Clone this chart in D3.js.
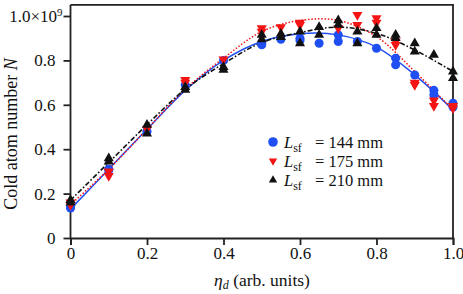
<!DOCTYPE html>
<html>
<head>
<meta charset="utf-8">
<script src="https://cdn.jsdelivr.net/npm/d3@7"></script>
<style>
  body { margin: 0; background: #fff; }
  svg text { font-family: "Liberation Serif", "Times New Roman", Times, serif; fill: #111; }
</style>
</head>
<body>
<div id="chart"></div>
<script>
// measured points (x = eta_d, y = N in units of 1e9)
const blueX = [0, 0, 0.1, 0.1, 0.2, 0.3, 0.4, 0.5, 0.5, 0.55, 0.6, 0.6, 0.65, 0.7, 0.7, 0.75, 0.8, 0.85, 0.85, 0.9, 0.95, 0.95, 1.0, 1.0];
const blueY = [0.135, 0.14, 0.306, 0.31, 0.48, 0.69, 0.80, 0.87, 0.875, 0.895, 0.90, 0.89, 0.877, 0.915, 0.885, 0.885, 0.855, 0.81, 0.78, 0.734, 0.645, 0.665, 0.607, 0.59];

const redX = [0, 0, 0.1, 0.1, 0.2, 0.3, 0.3, 0.4, 0.5, 0.5, 0.55, 0.6, 0.6, 0.7, 0.75, 0.75, 0.8, 0.8, 0.85, 0.85, 0.9, 0.9, 0.95, 0.95, 1.0, 1.0];
const redY = [0.149, 0.16, 0.30, 0.28, 0.49, 0.712, 0.70, 0.805, 0.945, 0.93, 0.95, 0.97, 0.96, 0.945, 1.005, 0.96, 0.99, 0.97, 0.87, 0.885, 0.70, 0.69, 0.62, 0.595, 0.585, 0.595];

const blackX = [0, 0, 0.1, 0.1, 0.2, 0.2, 0.3, 0.3, 0.4, 0.4, 0.5, 0.5, 0.55, 0.55, 0.6, 0.6, 0.65, 0.65, 0.7, 0.7, 0.75, 0.75, 0.8, 0.8, 0.85, 0.85, 0.9, 0.9, 0.95, 1.0, 1.0];
const blackY = [0.171, 0.16, 0.359, 0.344, 0.51, 0.47, 0.68, 0.667, 0.77, 0.757, 0.915, 0.895, 0.92, 0.905, 0.93, 0.877, 0.95, 0.915, 0.98, 0.96, 0.93, 0.877, 0.945, 0.915, 0.915, 0.90, 0.877, 0.84, 0.825, 0.75, 0.72];

const fitX = [0, 0.1, 0.2, 0.3, 0.4, 0.5, 0.6, 0.7, 0.8, 0.9, 1.0];
const fitBlue = [0.13, 0.31, 0.49, 0.665, 0.80, 0.885, 0.92, 0.915, 0.86, 0.735, 0.577];
const fitRed = [0.15, 0.31, 0.49, 0.67, 0.81, 0.93, 0.98, 0.98, 0.907, 0.75, 0.577];
const fitBlack = [0.17, 0.34, 0.51, 0.67, 0.785, 0.88, 0.925, 0.95, 0.922, 0.847, 0.75];

const xTicks = [0, 0.2, 0.4, 0.6, 0.8, 1.0];
const yTicks = [0, 0.2, 0.4, 0.6, 0.8, 1.0];
const legendLabels = ["144 mm", "175 mm", "210 mm"];

const width = 463, height = 294;
const blue = "#1f4ff2", red = "#f41414", black = "#111";
const serif = '"Liberation Serif", "Times New Roman", Times, serif';

const svg = d3.select("#chart").append("svg")
  .attr("width", width)
  .attr("height", height)
  .style("font-family", serif);

const x = d3.scaleLinear().domain([0, 1]).range([70.5, 453]);
const y = d3.scaleLinear().domain([0, 1]).range([238, 16]);

// frame (top + right)
svg.append("path")
  .attr("d", `M${x(0)},${y(1.05)}H${x(1)}V${y(0)}`)
  .attr("fill", "none")
  .attr("stroke", "#222")
  .attr("stroke-width", 1.8);

const xAxis = svg.append("g")
  .attr("transform", `translate(0,${y(0)})`)
  .call(d3.axisBottom(x).tickValues(xTicks).tickSize(7).tickPadding(2)
    .tickFormat(d => d === 0 ? "0" : d3.format(".1f")(d)));

const yAxis = svg.append("g")
  .attr("transform", `translate(${x(0)},0)`)
  .call(d3.axisLeft(y).tickValues(yTicks).tickSize(7).tickPadding(8)
    .tickFormat(d => d === 0 ? "0" : d3.format(".1f")(d)));

yAxis.select("path.domain").attr("d", `M0,${y(0)}V${y(1.05)}`);

[xAxis, yAxis].forEach(a => {
  a.attr("font-family", serif);
  a.select(".domain").attr("stroke", "#222").attr("stroke-width", 1.8);
  a.selectAll(".tick line").attr("stroke", "#222").attr("stroke-width", 1.8);
  a.selectAll("text").attr("font-size", 17).attr("fill", "#111");
});

// 1.0x10^9 label
yAxis.selectAll(".tick text").filter(d => d === 1.0).each(function () {
  const t = d3.select(this).text("").attr("dx", 7);
  t.append("tspan").text("1.0×10");
  t.append("tspan").text("9").attr("font-size", 11).attr("dy", "-0.55em");
});

// fit curves
const line = vals => d3.line()
  .x((d, i) => x(fitX[i]))
  .y(d => y(d))
  .curve(d3.curveCatmullRom.alpha(0.5))(vals);

svg.append("path").attr("d", line(fitBlue))
  .attr("fill", "none").attr("stroke", blue).attr("stroke-width", 1.5);
svg.append("path").attr("d", line(fitRed))
  .attr("fill", "none").attr("stroke", red).attr("stroke-width", 1.5)
  .attr("stroke-dasharray", "1.5,1.8");
svg.append("path").attr("d", line(fitBlack))
  .attr("fill", "none").attr("stroke", black).attr("stroke-width", 1.6)
  .attr("stroke-dasharray", "5,2,1.6,2");

// markers
const circleSym = d3.symbol().type(d3.symbolCircle).size(64);
const triSym = d3.symbol().type(d3.symbolTriangle).size(44);

svg.append("g").selectAll("path")
  .data(blueX.map((v, i) => [v, blueY[i]]))
  .join("path")
  .attr("d", circleSym)
  .attr("transform", d => `translate(${x(d[0])},${y(d[1])})`)
  .attr("fill", blue);

svg.append("g").selectAll("path")
  .data(redX.map((v, i) => [v, redY[i]]))
  .join("path")
  .attr("d", triSym)
  .attr("transform", d => `translate(${x(d[0])},${y(d[1])}) rotate(180)`)
  .attr("fill", red);

svg.append("g").selectAll("path")
  .data(blackX.map((v, i) => [v, blackY[i]]))
  .join("path")
  .attr("d", triSym)
  .attr("transform", d => `translate(${x(d[0])},${y(d[1])})`)
  .attr("fill", black);

// legend
const legend = svg.append("g");
const legendColors = [blue, red, black];
legendLabels.forEach((lab, i) => {
  const ly = 142 + i * 19;
  const sym = i === 0 ? d3.symbol().type(d3.symbolCircle).size(72)
                      : d3.symbol().type(d3.symbolTriangle).size(30);
  legend.append("path")
    .attr("d", sym)
    .attr("transform", `translate(273,${ly})${i === 1 ? " rotate(180)" : ""}`)
    .attr("fill", legendColors[i]);
  const t = legend.append("text")
    .attr("x", 284).attr("y", ly + 6)
    .attr("font-size", 16.5);
  t.append("tspan").text("L").attr("font-style", "italic");
  t.append("tspan").text("sf").attr("font-size", 12).attr("dy", 4);
  t.append("tspan").text("= " + lab).attr("x", 315).attr("dy", -4);
});

// axis titles
const xt = svg.append("text")
  .attr("x", 262).attr("y", 286)
  .attr("text-anchor", "middle")
  .attr("font-size", 17.5);
xt.append("tspan").text("η").attr("font-style", "italic");
xt.append("tspan").text("d").attr("font-style", "italic").attr("font-size", 12).attr("dy", 3);
xt.append("tspan").text(" (arb. units)").attr("dy", -3);

const yt = svg.append("text")
  .attr("transform", "translate(17,134) rotate(-90)")
  .attr("text-anchor", "middle")
  .attr("font-size", 18);
yt.append("tspan").text("Cold atom number ");
yt.append("tspan").text("N").attr("font-style", "italic");
</script>
</body>
</html>
